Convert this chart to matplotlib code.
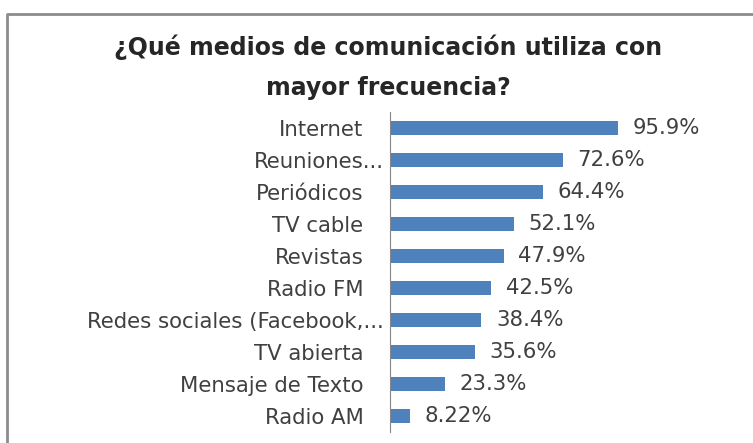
import matplotlib.pyplot as plt
import matplotlib.transforms as mtransforms
from matplotlib.lines import Line2D

# data
medios = ["Internet", "Reuniones...", "Periódicos", "TV cable", "Revistas",
          "Radio FM", "Redes sociales (Facebook,...", "TV abierta",
          "Mensaje de Texto", "Radio AM"]
porcentajes = [95.9, 72.6, 64.4, 52.1, 47.9, 42.5, 38.4, 35.6, 23.3, 8.22]
etiquetas = ["95.9%", "72.6%", "64.4%", "52.1%", "47.9%", "42.5%",
             "38.4%", "35.6%", "23.3%", "8.22%"]

plt.rcParams["font.family"] = ["DejaVu Sans"]

W, H = 753, 443
fig = plt.figure(figsize=(W / 100, H / 100), dpi=100)
fig.patch.set_facecolor("white")

# chart frame (only left and top edges visible)
fig.add_artist(Line2D([7 / W, 7 / W, 1.0], [0.0, 1 - 14 / H, 1 - 14 / H],
                      transform=fig.transFigure, color="#8c8c8c", lw=2))

ax = fig.add_axes([390 / W, 1 - 432 / H, 285.3 / W, 320 / H])

y = list(range(len(medios)))
ax.barh(y, porcentajes, height=0.45, color="#4f81bd")
ax.set_ylim(len(medios) - 0.5, -0.5)
ax.set_xlim(0, 120)

for yi, v, t in zip(y, porcentajes, etiquetas):
    ax.annotate(t, (v, yi), xytext=(10.5, 0), textcoords="offset points",
                va="center", ha="left", fontsize=15.3, color="#404040")

ax.set_yticks(y)
ax.set_yticklabels(medios, fontsize=15.3, color="#404040")
ax.tick_params(axis="y", length=0, pad=19)
ax.set_xticks([])
for s in ["top", "right", "bottom"]:
    ax.spines[s].set_visible(False)
ax.spines["left"].set_color("#868686")

# truncated labels sit a bit further right
shift = mtransforms.ScaledTranslation(20 / 100, 0, fig.dpi_scale_trans)
for lab in ax.get_yticklabels():
    if lab.get_text().endswith("..."):
        lab.set_transform(lab.get_transform() + shift)

fig.text(388 / W, 1 - 47 / H, "¿Qué medios de comunicación utiliza con",
         ha="center", va="center", fontsize=17, fontweight="bold", color="#262626")
fig.text(388 / W, 1 - 88 / H, "mayor frecuencia?",
         ha="center", va="center", fontsize=17, fontweight="bold", color="#262626")

fig.savefig("out.png", dpi=100)
